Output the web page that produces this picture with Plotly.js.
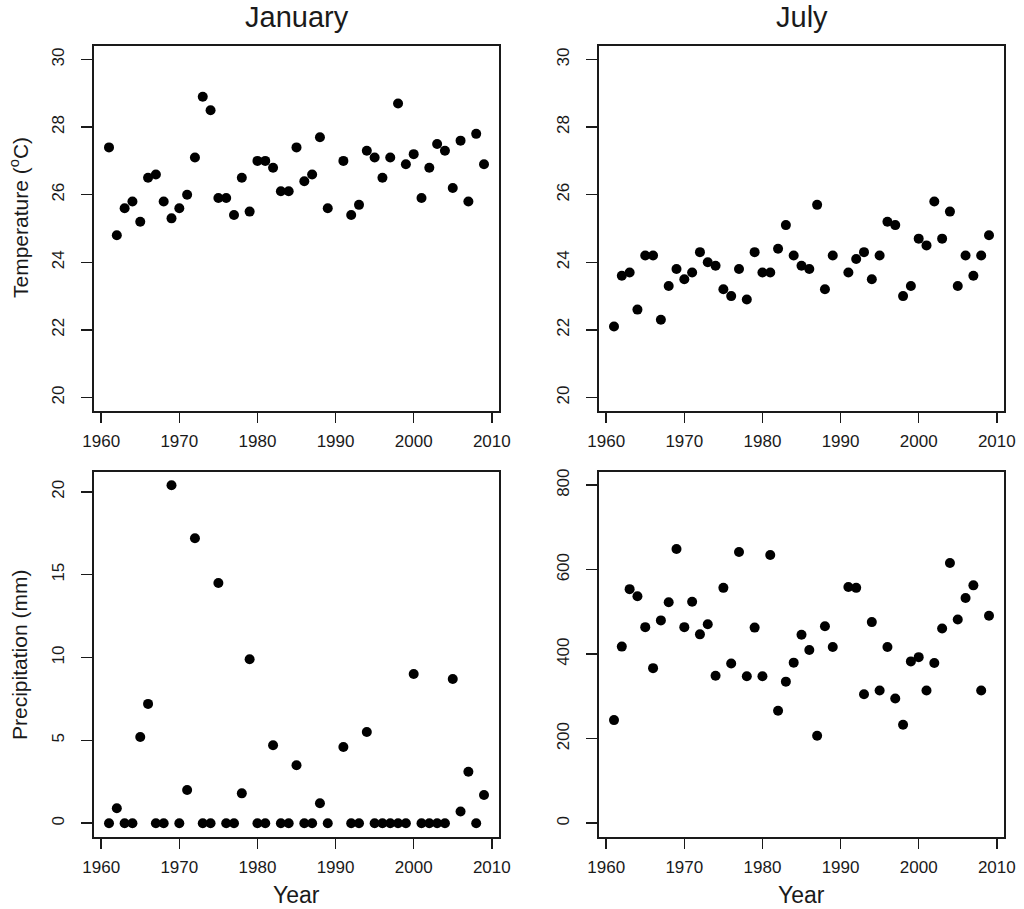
<!DOCTYPE html>
<html>
<head>
<meta charset="utf-8">
<script src="https://cdn.plot.ly/plotly-3.0.1.min.js"></script>
<style>html,body{margin:0;padding:0;background:#fff;}#chart{width:1024px;height:909px;}</style>
</head>
<body>
<div id="chart"></div>
<script>
// Years (1990 absent in the source data)
const years = [1961,1962,1963,1964,1965,1966,1967,1968,1969,1970,1971,1972,1973,1974,1975,1976,1977,1978,1979,1980,1981,1982,1983,1984,1985,1986,1987,1988,1989,
               1991,1992,1993,1994,1995,1996,1997,1998,1999,2000,2001,2002,2003,2004,2005,2006,2007,2008,2009];

const janTemp = [27.4,24.8,25.6,25.8,25.2,26.5,26.6,25.8,25.3,25.6,26.0,27.1,28.9,28.5,25.9,25.9,25.4,26.5,25.5,27.0,27.0,26.8,26.1,26.1,27.4,26.4,26.6,27.7,25.6,
                 27.0,25.4,25.7,27.3,27.1,26.5,27.1,28.7,26.9,27.2,25.9,26.8,27.5,27.3,26.2,27.6,25.8,27.8,26.9];

const julTemp = [22.1,23.6,23.7,22.6,24.2,24.2,22.3,23.3,23.8,23.5,23.7,24.3,24.0,23.9,23.2,23.0,23.8,22.9,24.3,23.7,23.7,24.4,25.1,24.2,23.9,23.8,25.7,23.2,24.2,
                 23.7,24.1,24.3,23.5,24.2,25.2,25.1,23.0,23.3,24.7,24.5,25.8,24.7,25.5,23.3,24.2,23.6,24.2,24.8];

const janPrecip = [0,0.9,0,0,5.2,7.2,0,0,20.4,0,2.0,17.2,0,0,14.5,0,0,1.8,9.9,0,0,4.7,0,0,3.5,0,0,1.2,0,
                   4.6,0,0,5.5,0,0,0,0,0,9.0,0,0,0,0,8.7,0.7,3.1,0,1.7];

const julPrecip = [244,418,554,537,464,367,480,523,649,464,524,447,471,349,557,378,642,348,463,348,635,266,335,380,446,410,207,466,417,
                   559,557,305,476,314,417,295,233,383,393,314,379,461,616,482,533,563,314,491];

const xTicks = [1960,1970,1980,1990,2000,2010];
const tempTicks = [20,22,24,26,28,30];
const janPrecipTicks = [0,5,10,15,20];
const julPrecipTicks = [0,200,400,600,800];

const panelTitles = ["January","July"];
const yTitles = ["Temperature (<sup>o</sup>C)","Precipitation (mm)"];
const xTitle = "Year";

const FONT = "Liberation Sans, Arial, Helvetica, sans-serif";
const INK = "#1a1a1a";

function extRange(lo, hi){ const d=(hi-lo)*0.04; return [lo-d, hi+d]; }

const marker = {color:"#000", size:10, symbol:"circle"};
function trace(x, y, n){
  return {x:x, y:y, type:"scatter", mode:"markers", marker:marker,
          xaxis:"x"+(n>1?n:""), yaxis:"y"+(n>1?n:""), hoverinfo:"x+y", showlegend:false};
}

const data = [
  trace(years, janTemp, 1),
  trace(years, julTemp, 2),
  trace(years, janPrecip, 3),
  trace(years, julPrecip, 4)
];

const W = 1024, H = 909;
const colX = [[94/W, 499/W],[599/W, 1004/W]];
const rowY = [[1-411/H, 1-46/H],[1-836.7/H, 1-471.7/H]];

function xAxis(dom, anchor){
  return {domain:dom, anchor:anchor, range:extRange(Math.min(...years), Math.max(...years)),
    tickvals:xTicks, ticktext:xTicks.map(String), ticks:"outside", ticklen:10, tickwidth:1.5, tickcolor:INK,
    showline:true, mirror:true, linecolor:INK, linewidth:2, showgrid:false, zeroline:false,
    ticklabelstandoff:4, tickfont:{family:FONT, size:17, color:INK}};
}
function yAxis(dom, anchor, range, ticks){
  return {domain:dom, anchor:anchor, range:range,
    tickvals:ticks, ticktext:ticks.map(String), ticks:"outside", ticklen:11, tickwidth:1.5, tickcolor:INK,
    showline:true, mirror:true, linecolor:INK, linewidth:2, showgrid:false, zeroline:false,
    tickangle:-90, ticklabelstandoff:10, tickfont:{family:FONT, size:17, color:INK}};
}

function ann(text, x, y, size, angle){
  return {text:text, xref:"paper", yref:"paper", x:x, y:y, xanchor:"center", yanchor:"middle",
          textangle:angle||0, showarrow:false, font:{size:size, family:FONT, color:INK}};
}

const layout = {
  width:W, height:H, paper_bgcolor:"#fff", plot_bgcolor:"#fff",
  margin:{l:0,r:0,t:0,b:0, autoexpand:false},
  font:{family:FONT, color:INK},
  xaxis:  xAxis(colX[0], "y"),
  yaxis:  yAxis(rowY[0], "x", extRange(20,30), tempTicks),
  xaxis2: xAxis(colX[1], "y2"),
  yaxis2: yAxis(rowY[0], "x2", extRange(20,30), tempTicks),
  xaxis3: xAxis(colX[0], "y3"),
  yaxis3: yAxis(rowY[1], "x3", extRange(0, Math.max(...janPrecip)), janPrecipTicks),
  xaxis4: xAxis(colX[1], "y4"),
  yaxis4: yAxis(rowY[1], "x4", extRange(0,800), julPrecipTicks),
  annotations:[
    ann(panelTitles[0], (colX[0][0]+colX[0][1])/2, 1-17/H, 29),
    ann(panelTitles[1], (colX[1][0]+colX[1][1])/2, 1-17/H, 29),
    ann(yTitles[0], 19/W, 1-218/H, 21, -90),
    ann(yTitles[1], 19/W, 1-655/H, 21, -90),
    ann(xTitle, (colX[0][0]+colX[0][1])/2, 1-895/H, 23),
    ann(xTitle, (colX[1][0]+colX[1][1])/2, 1-895/H, 23)
  ]
};

Plotly.newPlot("chart", data, layout, {displayModeBar:false, staticPlot:true});
</script>
</body>
</html>
